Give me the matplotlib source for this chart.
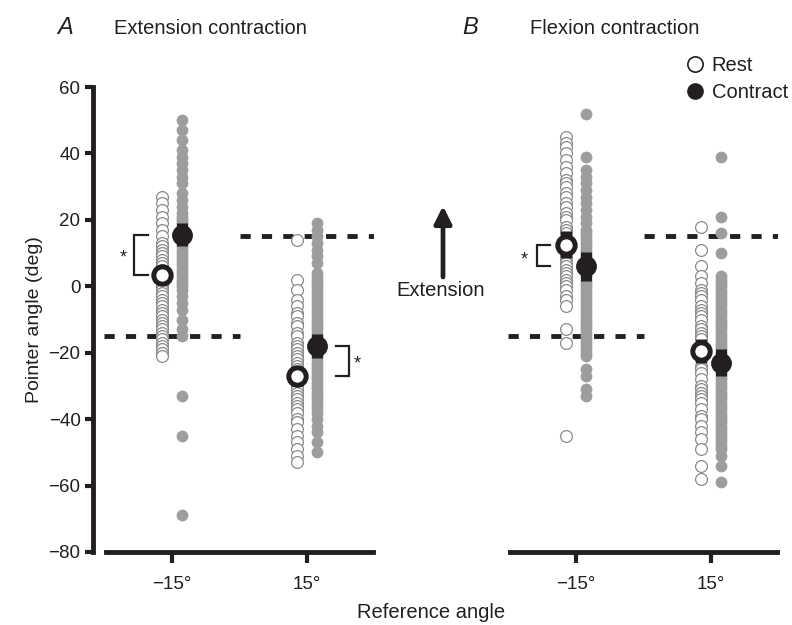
import matplotlib
matplotlib.use("Agg")
import matplotlib.pyplot as plt
from matplotlib.lines import Line2D

plt.rcParams['font.family'] = ['Liberation Sans', 'DejaVu Sans']

INK  = "#231f20"
GREY = "#9d9d9f"
EDGE = "#8a8a8c"

# reference angle categories (deg) and tick labels
ref_angles  = [-15, 15]
tick_labels = ["\u221215\u00b0", "15\u00b0"]

# ---- A: extension contraction, single trials (deg)
a_rest_m15 = [27, 25, 23, 21, 19, 17, 15, 13, 12, 11, 10, 9, 8, 7, 6, 5, 4, 3,
              2, 1, 0, -1, -2, -3, -4, -5, -6, -7, -8, -9, -10, -11, -12, -13,
              -14, -15, -16, -17, -18, -19, -20, -21]
a_con_m15 = [50, 47, 44, 41, 39, 37, 35, 33, 31, 28, 26, 24, 22, 21, 20, 19,
             18, 17, 16, 15, 14, 13, 12, 11, 10, 9, 8, 7, 6, 5, 4, 3, 2, 1, 0,
             -1, -3, -5, -7, -10, -13, -15, -33, -45, -69]
a_rest_p15 = [14, 2, -1, -4, -6, -8, -9, -11, -12, -14, -15, -17, -18, -19,
              -20, -21, -22, -23, -24, -25, -26, -27, -28, -29, -30, -31, -32,
              -33, -34, -35, -36, -37, -38, -40, -41, -43, -45, -47, -49, -51,
              -53]
a_con_p15 = [19, 17, 15, 13, 11, 9, 7, 4, 3, 2, 1, 0, -1, -2, -3, -4, -5, -6,
             -7, -8, -9, -10, -11, -12, -13, -14, -15, -16, -17, -18, -19, -20,
             -21, -22, -23, -24, -25, -26, -27, -28, -29, -30, -31, -32, -33,
             -34, -35, -36, -37, -38, -40, -42, -44, -47, -50]

# ---- B: flexion contraction, single trials (deg)
b_rest_m15 = [45, 43, 42, 40, 38, 36, 34, 32, 31, 30, 28, 27, 25, 24, 22, 21,
              20, 18, 17, 16, 14, 13, 12, 11, 10, 9, 8, 7, 6, 5, 4, 3, 2, 1, 0,
              -1, -3, -4, -6, -13, -17, -45]
b_con_m15 = [52, 39, 35, 33, 31, 29, 27, 25, 23, 21, 19, 17, 16, 15, 14, 13,
             12, 11, 10, 9, 8, 7, 6, 5, 4, 3, 2, 1, 0, -1, -2, -3, -4, -5, -6,
             -7, -8, -9, -10, -11, -12, -13, -14, -15, -16, -17, -18, -19, -20,
             -21, -25, -27, -31, -33]
b_rest_p15 = [18, 11, 6, 3, 1, -1, -2, -3, -4, -6, -7, -8, -9, -10, -12, -13,
              -14, -15, -16, -18, -19, -20, -21, -22, -24, -25, -26, -28, -30,
              -31, -32, -33, -34, -35, -37, -39, -40, -42, -44, -46, -49, -54,
              -58]
b_con_p15 = [39, 21, 16, 10, 3, 2, 1, 0, -1, -2, -3, -4, -5, -6, -7, -8, -9,
             -10, -11, -12, -13, -14, -15, -16, -17, -18, -19, -20, -21, -22,
             -23, -24, -25, -26, -27, -28, -29, -30, -31, -32, -33, -34, -35,
             -36, -37, -38, -39, -40, -41, -42, -43, -44, -45, -46, -47, -48,
             -49, -51, -54, -59]

# group means and SEM, order [-15, 15]
a_rest_mean = [3.5, -27.0]
a_rest_sem  = [3.0, 3.0]
a_con_mean  = [15.5, -18.0]
a_con_sem   = [3.5, 3.5]
b_rest_mean = [12.5, -19.5]
b_rest_sem  = [4.0, 3.6]
b_con_mean  = [6.0, -23.0]
b_con_sem   = [4.3, 4.0]

OFF = 0.075


def draw_panel(ax, rest, con, rest_mean, rest_sem, con_mean, con_sem):
    for i, ref in enumerate(ref_angles):
        # target angle as dashed line
        ax.plot([i - 0.5, i + 0.5], [ref, ref], color=INK, lw=3.5,
                ls=(0, (2.1, 2.3)), zorder=1)
    for i in range(2):
        ax.scatter([i - OFF] * len(rest[i]), rest[i], s=72, facecolor="white",
                   edgecolor=EDGE, linewidth=0.9, zorder=2, clip_on=False)
        ax.scatter([i + OFF] * len(con[i]), con[i], s=72, color=GREY,
                   linewidth=0, zorder=2, clip_on=False)
        ax.errorbar(i - OFF, rest_mean[i], yerr=rest_sem[i], fmt="none",
                    ecolor=INK, elinewidth=8, capsize=0, zorder=3)
        ax.errorbar(i + OFF, con_mean[i], yerr=con_sem[i], fmt="none",
                    ecolor=INK, elinewidth=8, capsize=0, zorder=3)
        ax.plot(i - OFF, rest_mean[i], "o", ms=12.5, mfc="white", mec=INK,
                mew=3.6, zorder=4)
        ax.plot(i + OFF, con_mean[i], "o", ms=14, mfc=INK, mec=INK, zorder=4)

    ax.set_xlim(-0.585, 1.496)
    ax.set_ylim(-80, 60)
    ax.set_xticks([0, 1])
    ax.set_xticklabels(tick_labels, fontsize=13.5, color=INK)
    for s in ["top", "right"]:
        ax.spines[s].set_visible(False)
    ax.spines["bottom"].set_bounds(-0.49, 1.49)
    ax.spines["bottom"].set_linewidth(3.5)
    ax.spines["bottom"].set_color(INK)
    ax.tick_params(axis="x", length=8, width=3, color=INK, pad=9)
    ax.patch.set_alpha(0)


def bracket(ax, x, x_end, y0, y1, star_x, star_y):
    ax.plot([x_end, x, x, x_end], [y0, y0, y1, y1], color=INK, lw=1.6,
            solid_joinstyle="miter", zorder=5)
    ax.text(star_x, star_y, "*", fontsize=13, color=INK, ha="center",
            va="center")


fig = plt.figure(figsize=(7.92, 6.25), dpi=100)
ax_a = fig.add_axes([93 / 792, 73 / 625, 281 / 792, 465 / 625])
ax_b = fig.add_axes([497 / 792, 73 / 625, 281 / 792, 465 / 625])

draw_panel(ax_a, [a_rest_m15, a_rest_p15], [a_con_m15, a_con_p15],
           a_rest_mean, a_rest_sem, a_con_mean, a_con_sem)
draw_panel(ax_b, [b_rest_m15, b_rest_p15], [b_con_m15, b_con_p15],
           b_rest_mean, b_rest_sem, b_con_mean, b_con_sem)

# y axis only on panel A
ax_a.set_yticks(range(-80, 61, 20))
ax_a.tick_params(axis="y", length=6, width=3, color=INK, labelsize=13.5,
                 labelcolor=INK, pad=3)
ax_a.spines["left"].set_bounds(-80, 60)
ax_a.spines["left"].set_linewidth(3.5)
ax_a.spines["left"].set_color(INK)
ax_a.set_ylabel("Pointer angle (deg)", fontsize=14, color=INK, labelpad=4)
ax_b.spines["left"].set_visible(False)
ax_b.set_yticks([])

# significance brackets
bracket(ax_a, -0.28, -0.18, a_rest_mean[0], a_con_mean[0], -0.36, 8.5)
bracket(ax_a, 1.31, 1.215, a_con_mean[1], a_rest_mean[1], 1.37, -23.5)
bracket(ax_b, -0.29, -0.19, b_con_mean[0], b_rest_mean[0], -0.385, 8.0)

# titles
fig.text(57 / 792, 1 - 27 / 625, "A", fontsize=17, style="italic",
         color=INK, va="center")
fig.text(114 / 792, 1 - 29 / 625, "Extension contraction", fontsize=14.5,
         color=INK, va="center")
fig.text(462 / 792, 1 - 27 / 625, "B", fontsize=17, style="italic",
         color=INK, va="center")
fig.text(530 / 792, 1 - 29 / 625, "Flexion contraction", fontsize=14.5,
         color=INK, va="center")
fig.text(431 / 792, 1 - 613 / 625, "Reference angle", fontsize=14.5,
         color=INK, ha="center", va="center")

# direction arrow
fig.text(441 / 792, 1 - 290 / 625, "Extension", fontsize=14.5, color=INK,
         ha="center", va="center")
ax_a.annotate("", xy=(443 / 792, 1 - 206 / 625),
              xytext=(443 / 792, 1 - 277 / 625),
              xycoords="figure fraction", textcoords="figure fraction",
              arrowprops=dict(arrowstyle="-|>", lw=3.4, color=INK,
                              mutation_scale=26, shrinkA=0, shrinkB=0))

# legend
handles = [Line2D([], [], ls="none", marker="o", ms=11, mfc="white",
                  mec=INK, mew=1.2, label="Rest"),
           Line2D([], [], ls="none", marker="o", ms=11, mfc=INK, mec=INK,
                  label="Contract")]
fig.legend(handles=handles, loc="upper right",
           bbox_to_anchor=(796 / 792, 1 - 48 / 625), frameon=False,
           fontsize=14.5, handletextpad=0.35, labelspacing=0.38,
           handlelength=1.0, borderaxespad=0, labelcolor=INK)

fig.savefig("out.png", dpi=100)
